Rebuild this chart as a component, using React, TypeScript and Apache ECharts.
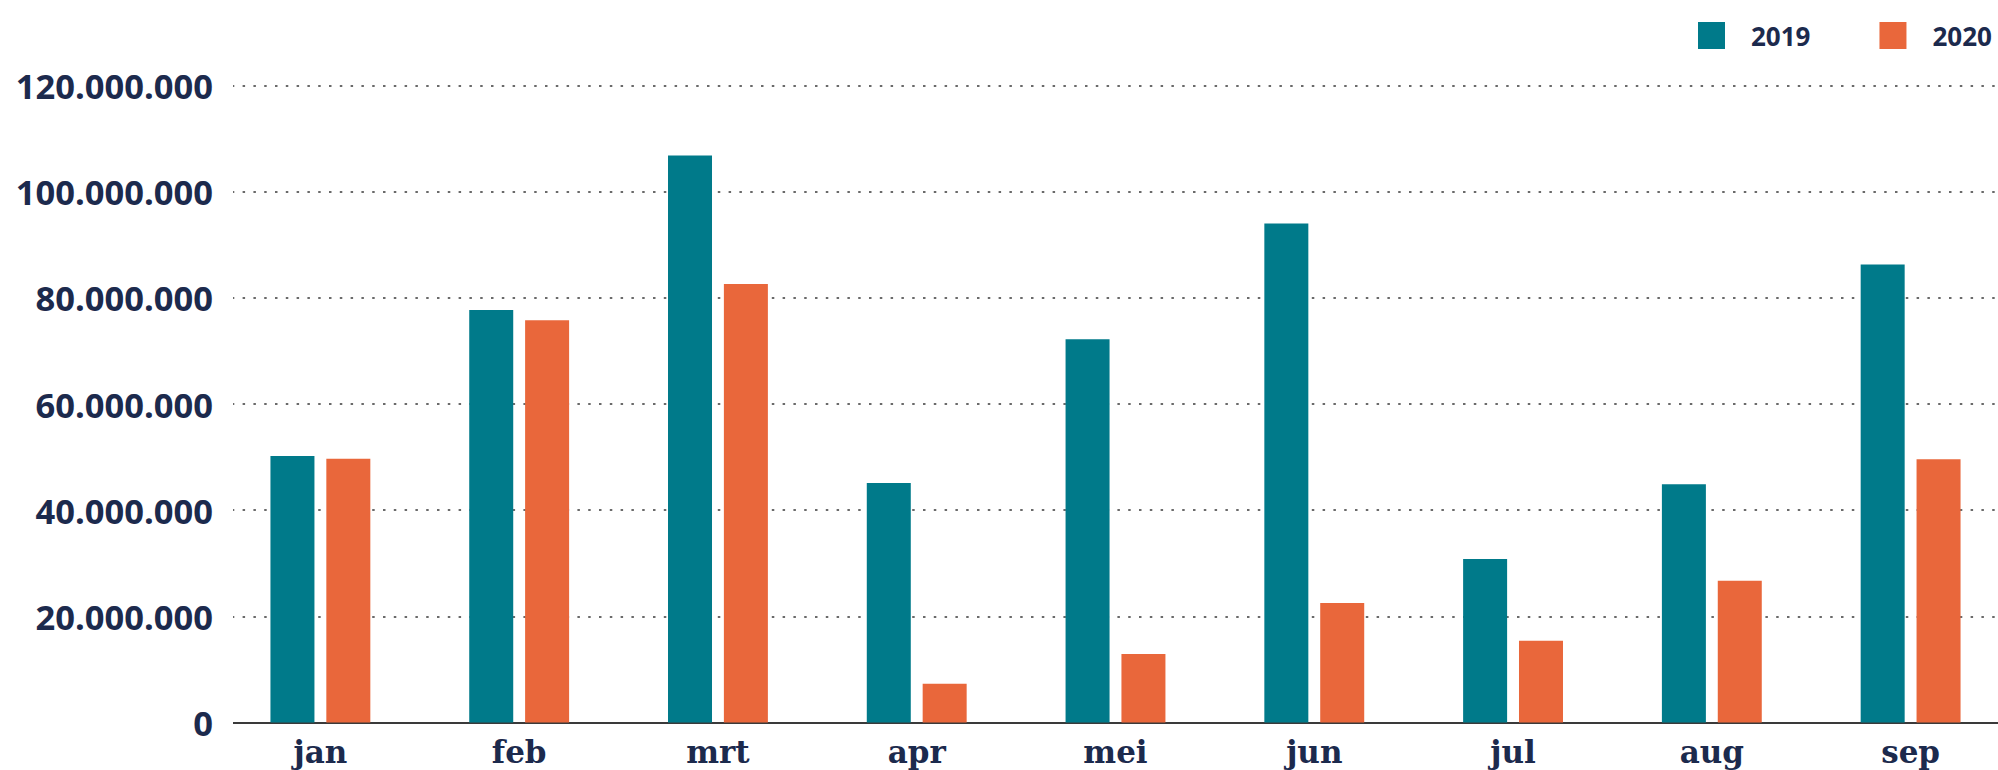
import React, { useEffect, useRef } from "react";
import * as echarts from "echarts";

const months = ["jan", "feb", "mrt", "apr", "mei", "jun", "jul", "aug", "sep"];
const values2019 = [50200000, 77700000, 106800000, 45100000, 72200000, 94000000, 30800000, 44900000, 86300000];
const values2020 = [49700000, 75800000, 82600000, 7300000, 12900000, 22500000, 15400000, 26700000, 49600000];
const seriesNames = ["2019", "2020"];
const yTicks = { min: 0, max: 120000000, interval: 20000000 };

const TEXT = "#1c2a4d";
const TEAL = "#007a8a";
const ORANGE = "#e9673b";

function fmt(v: number): string {
  return String(Math.round(v)).replace(/\B(?=(\d{3})+(?!\d))/g, ".");
}

export default function App() {
  const ref = useRef<HTMLDivElement>(null);
  useEffect(() => {
    if (!ref.current) return;
    const chart = echarts.init(ref.current, null, { renderer: "svg" });
    chart.setOption({
      animation: false,
      backgroundColor: "#ffffff",
      legend: {
        left: 1693,
        top: 17,
        itemWidth: 27,
        itemHeight: 27,
        itemGap: 69,
        icon: "rect",
        textStyle: {
          color: TEXT,
          fontFamily: "Open Sans",
          fontWeight: 700,
          fontSize: 26,
          padding: [0, 0, 0, 21],
        },
        data: seriesNames,
      },
      grid: {
        left: 221,
        width: 1789,
        top: 85.5,
        bottom: 47.5,
        containLabel: false,
        outerBoundsMode: "none",
      },
      xAxis: {
        type: "category",
        data: months,
        axisTick: { show: false },
        axisLine: { lineStyle: { color: "#3a3a3a", width: 2 } },
        axisLabel: {
          color: TEXT,
          fontFamily: "DejaVu Serif",
          fontWeight: 700,
          fontSize: 31,
          margin: 14,
        },
      },
      yAxis: {
        type: "value",
        min: yTicks.min,
        max: yTicks.max,
        interval: yTicks.interval,
        axisLine: { show: false },
        axisTick: { show: false },
        axisLabel: {
          color: TEXT,
          fontFamily: "Open Sans",
          fontWeight: 700,
          fontSize: 34.5,
          margin: 8,
          formatter: (v: number) => fmt(v),
        },
        splitLine: { lineStyle: { color: "#3a3a3a", width: 1.7, type: [2.5, 8.3] } },
      },
      graphic: [
        {
          type: "rect",
          shape: { x: 215, y: 75, width: 18, height: 660 },
          style: { fill: "#ffffff" },
          z: 100,
        },
      ],
      series: [
        {
          name: seriesNames[0],
          type: "bar",
          data: values2019,
          barWidth: 44,
          barGap: "27%",
          itemStyle: { color: TEAL },
        },
        {
          name: seriesNames[1],
          type: "bar",
          data: values2020,
          barWidth: 44,
          itemStyle: { color: ORANGE },
        },
      ],
    });
    return () => chart.dispose();
  }, []);
  return (
    <div
      ref={ref}
      style={{ position: "absolute", left: 0, top: 0, width: 1998, height: 770 }}
    />
  );
}
